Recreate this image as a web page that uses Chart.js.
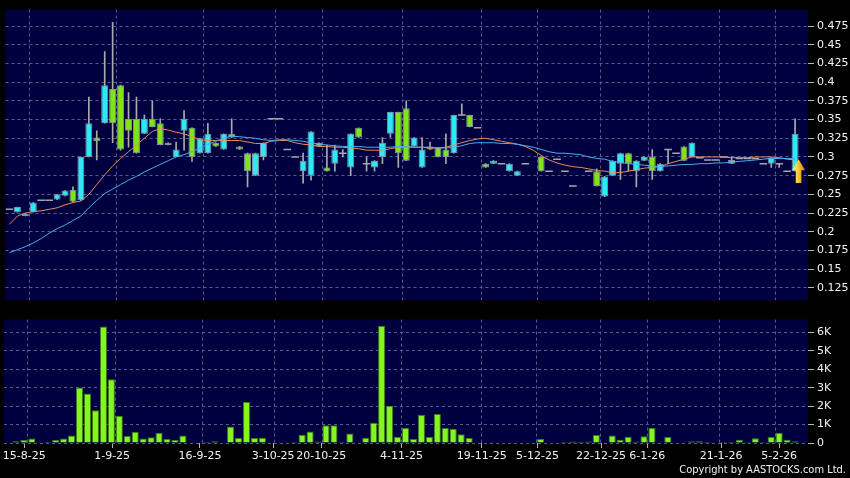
<!DOCTYPE html>
<html>
<head>
<meta charset="utf-8">
<script src="https://cdn.jsdelivr.net/npm/chart.js@4.4.1/dist/chart.umd.min.js"></script>
<style>
  html, body { margin: 0; background: #000; }
  #wrap { position: relative; width: 850px; height: 478px; overflow: hidden; }
  #priceBox { position: absolute; left: 0; top: 0; width: 850px; height: 310px; }
  #volBox { position: absolute; left: 0; top: 310px; width: 850px; height: 168px; }
  #copy { position: absolute; right: 4px; top: 463px; color: #f2f2f2;
          font: 11px "DejaVu Sans Condensed", "DejaVu Sans", sans-serif; }
</style>
</head>
<body>
<div id="wrap">
  <div id="priceBox"><canvas id="priceChart"></canvas></div>
  <div id="volBox"><canvas id="volChart"></canvas></div>
  <div id="copy">Copyright by AASTOCKS.com Ltd.</div>
</div>
<script>
// daily candles, one per trading day shown (null = nothing drawn)
const open = [
  0.230, 0.226, 0.221, 0.226, 0.242, 0.242, 0.243, 0.248, 0.256, 0.242,
  0.300, 0.326, 0.345, 0.391, 0.396, 0.351, 0.351, 0.331, 0.351, 0.345,
  0.319, 0.300, 0.335, 0.339, 0.305, 0.305, 0.319, 0.310, 0.331, 0.314,
  0.305, 0.275, 0.300, 0.351, 0.351, 0.310, 0.300, 0.281, 0.275, 0.319,
  0.286, 0.291, 0.305, 0.286, 0.339, 0.291, 0.286, 0.300, 0.331, 0.360,
  0.365, 0.314, 0.286, 0.314, 0.313, 0.310, 0.305, 0.356, 0.356, 0.339,
  0.291, 0.291, 0.291, 0.281, 0.275, 0.291, null, 0.300, 0.281, 0.297,
  0.281, 0.261, null, 0.281, 0.281, 0.247, 0.275, 0.291, 0.305, 0.281,
  0.295, 0.300, 0.281, 0.310, 0.305, 0.314, 0.300, 0.299, 0.296, 0.296,
  0.300, 0.296, 0.298, 0.298, 0.298, 0.291, 0.291, 0.291, 0.281, 0.281
];
const high = [
  0.230, 0.233, 0.224, 0.239, 0.242, 0.242, 0.250, 0.255, 0.260, 0.300,
  0.380, 0.335, 0.441, 0.480, 0.396, 0.386, 0.380, 0.356, 0.375, 0.351,
  0.319, 0.320, 0.362, 0.339, 0.325, 0.345, 0.319, 0.331, 0.351, 0.314,
  0.305, 0.305, 0.319, 0.351, 0.351, 0.310, 0.300, 0.305, 0.334, 0.319,
  0.316, 0.316, 0.310, 0.331, 0.339, 0.300, 0.295, 0.326, 0.360, 0.360,
  0.375, 0.326, 0.326, 0.320, 0.313, 0.331, 0.356, 0.371, 0.356, 0.339,
  0.291, 0.295, 0.291, 0.291, 0.281, 0.291, null, 0.300, 0.281, 0.297,
  0.281, 0.261, null, 0.281, 0.284, 0.274, 0.295, 0.305, 0.305, 0.295,
  0.300, 0.310, 0.291, 0.310, 0.305, 0.314, 0.319, 0.299, 0.296, 0.296,
  0.300, 0.300, 0.298, 0.298, 0.298, 0.291, 0.299, 0.291, 0.281, 0.351
];
const low = [
  0.230, 0.226, 0.221, 0.226, 0.242, 0.242, 0.243, 0.248, 0.240, 0.242,
  0.300, 0.296, 0.345, 0.319, 0.309, 0.313, 0.305, 0.331, 0.340, 0.316,
  0.316, 0.300, 0.309, 0.294, 0.305, 0.305, 0.314, 0.310, 0.326, 0.310,
  0.260, 0.275, 0.296, 0.351, 0.351, 0.310, 0.300, 0.265, 0.269, 0.314,
  0.281, 0.281, 0.300, 0.275, 0.326, 0.281, 0.281, 0.291, 0.326, 0.286,
  0.295, 0.314, 0.286, 0.310, 0.300, 0.291, 0.305, 0.356, 0.340, 0.339,
  0.286, 0.291, 0.291, 0.281, 0.275, 0.291, null, 0.281, 0.281, 0.297,
  0.281, 0.261, null, 0.281, 0.261, 0.247, 0.275, 0.270, 0.281, 0.260,
  0.295, 0.270, 0.281, 0.291, 0.305, 0.295, 0.300, 0.299, 0.296, 0.296,
  0.300, 0.291, 0.298, 0.298, 0.298, 0.291, 0.286, 0.286, 0.281, 0.281
];
const close = [
  0.230, 0.233, 0.224, 0.239, 0.242, 0.242, 0.250, 0.255, 0.240, 0.300,
  0.345, 0.321, 0.396, 0.345, 0.310, 0.335, 0.305, 0.351, 0.340, 0.316,
  0.316, 0.310, 0.351, 0.300, 0.325, 0.331, 0.314, 0.331, 0.326, 0.310,
  0.281, 0.305, 0.319, 0.351, 0.351, 0.310, 0.300, 0.295, 0.334, 0.314,
  0.281, 0.310, 0.305, 0.331, 0.326, 0.291, 0.295, 0.319, 0.360, 0.305,
  0.295, 0.326, 0.310, 0.310, 0.300, 0.300, 0.356, 0.356, 0.340, 0.339,
  0.286, 0.295, 0.291, 0.291, 0.281, 0.291, null, 0.281, 0.281, 0.297,
  0.281, 0.261, null, 0.281, 0.261, 0.274, 0.295, 0.305, 0.291, 0.295,
  0.300, 0.281, 0.291, 0.310, 0.305, 0.295, 0.319, 0.299, 0.296, 0.296,
  0.300, 0.291, 0.298, 0.298, 0.298, 0.291, 0.299, 0.291, 0.281, 0.331
];
const volume = [
  30, 100, 160, 250, 40, 50, 160, 250, 410, 3010,
  2690, 1780, 6320, 3460, 1480, 380, 610, 250, 310, 560,
  220, 160, 410, 0, 30, 50, 90, 30, 900, 270,
  2230, 270, 290, 0, 0, 40, 60, 450, 630, 80,
  970, 970, 60, 520, 0, 290, 1100, 6360, 2020, 340,
  830, 220, 1530, 320, 1570, 810, 780, 470, 270, 0,
  40, 40, 0, 40, 0, 0, 0, 220, 0, 0,
  50, 80, 70, 80, 430, 40, 410, 180, 340, 80,
  360, 810, 0, 320, 0, 30, 90, 100, 50, 0,
  50, 50, 180, 50, 260, 50, 320, 560, 180, 90
];
// short (orange) and long (blue) moving averages
const maShort = [
  0.210, 0.221, 0.225, 0.227, 0.228, 0.230, 0.232, 0.236, 0.239, 0.241,
  0.250, 0.263, 0.276, 0.288, 0.298, 0.307, 0.316, 0.325, 0.334, 0.338,
  0.336, 0.333, 0.331, 0.327, 0.323, 0.322, 0.322, 0.322, 0.322, 0.322,
  0.320, 0.318, 0.318, 0.321, 0.322, 0.322, 0.319, 0.317, 0.316, 0.314,
  0.314, 0.313, 0.313, 0.312, 0.311, 0.309, 0.309, 0.309, 0.311, 0.313,
  0.313, 0.313, 0.313, 0.312, 0.312, 0.313, 0.316, 0.319, 0.322, 0.324,
  0.325, 0.323, 0.321, 0.319, 0.317, 0.314, 0.309, 0.302, 0.296, 0.292,
  0.289, 0.287, 0.286, 0.284, 0.282, 0.281, 0.279, 0.279, 0.281, 0.283,
  0.285, 0.286, 0.287, 0.291, 0.294, 0.297, 0.300, 0.300, 0.300, 0.300,
  0.300, 0.299, 0.299, 0.299, 0.300, 0.300, 0.300, 0.299, 0.297, 0.296
];
const maLong = [
  0.172, 0.176, 0.180, 0.185, 0.191, 0.198, 0.204, 0.209, 0.215, 0.221,
  0.232, 0.242, 0.251, 0.257, 0.263, 0.269, 0.274, 0.280, 0.285, 0.290,
  0.295, 0.300, 0.303, 0.307, 0.312, 0.317, 0.321, 0.325, 0.328, 0.327,
  0.326, 0.325, 0.323, 0.322, 0.323, 0.323, 0.322, 0.321, 0.319, 0.317,
  0.316, 0.315, 0.314, 0.314, 0.314, 0.313, 0.313, 0.313, 0.313, 0.314,
  0.314, 0.313, 0.313, 0.313, 0.312, 0.312, 0.313, 0.315, 0.318, 0.319,
  0.319, 0.319, 0.318, 0.318, 0.317, 0.315, 0.313, 0.310, 0.307, 0.305,
  0.305, 0.304, 0.303, 0.300, 0.298, 0.297, 0.294, 0.293, 0.291, 0.290,
  0.289, 0.288, 0.287, 0.288, 0.289, 0.290, 0.290, 0.291, 0.291, 0.292,
  0.292, 0.293, 0.294, 0.295, 0.296, 0.297, 0.298, 0.298, 0.298, 0.298
];
const dateLabels = ['15-8-25', '1-9-25', '16-9-25', '3-10-25', '20-10-25', '4-11-25',
  '19-11-25', '5-12-25', '22-12-25', '6-1-26', '21-1-26', '5-2-26'];
const dateGridAt = [2.5, 13.5, 24.5, 33.5, 39.5, 49.5, 59.5, 66.5, 74.5, 80.5, 89.5, 96.5];
const dateLabelAt = [2.05, 13.1, 24.15, 33.35, 39.4, 49.5, 59.6, 66.6, 74.6, 80.4, 89.7, 97.0];
const priceTicks = [0.125, 0.15, 0.175, 0.2, 0.225, 0.25, 0.275, 0.3, 0.325, 0.35, 0.375, 0.4, 0.425, 0.45, 0.475];
const volTicks = [0, 1000, 2000, 3000, 4000, 5000, 6000];
const volTickLabels = ['0', '1K', '2K', '3K', '4K', '5K', '6K'];
const arrowAt = 99, arrowTop = 0.297, arrowBottom = 0.265;

const NAVY = '#000040';
const GRID = '#5a5a8c';
const TXT = '#f2f2f2';
const CYAN = '#2ee8f6';
const GREEN = '#80e41c';
const FONT = {family: 'DejaVu Sans', size: 11};
const X_MIN = -0.503, X_MAX = 100.63;

const idx = open.map((v, i) => i);
const bodies = idx.filter(i => open[i] !== null && open[i] !== close[i])
  .map(i => ({x: i, y: [open[i], close[i]]}));
const wicks = idx.filter(i => open[i] !== null && high[i] > low[i])
  .map(i => ({x: i, y: [low[i], high[i]]}));
const flats = idx.filter(i => open[i] !== null && open[i] === close[i])
  .map(i => ({x: i, y: close[i]}));

const plotBg = {
  id: 'plotBg',
  beforeDraw(chart) {
    const {ctx, chartArea: a} = chart;
    ctx.save();
    ctx.fillStyle = NAVY;
    ctx.fillRect(a.left, a.top, a.width, a.height);
    ctx.restore();
  }
};

// yellow "last price" arrow under the final candle
const arrow = {
  id: 'arrow',
  afterDatasetsDraw(chart) {
    const {ctx, scales: {x, y}} = chart;
    const cx = x.getPixelForValue(arrowAt) + 3.5;
    const top = y.getPixelForValue(arrowTop);
    const bot = y.getPixelForValue(arrowBottom);
    const hw = 6.5, head = 11, sw = 2.8;
    const g = ctx.createLinearGradient(cx - hw, 0, cx + hw, 0);
    g.addColorStop(0, '#fff4a8');
    g.addColorStop(0.5, '#f8c52c');
    g.addColorStop(1, '#c98a00');
    ctx.save();
    ctx.fillStyle = g;
    ctx.beginPath();
    ctx.moveTo(cx, top);
    ctx.lineTo(cx + hw, top + head);
    ctx.lineTo(cx + sw, top + head);
    ctx.lineTo(cx + sw, bot);
    ctx.lineTo(cx - sw, bot);
    ctx.lineTo(cx - sw, top + head);
    ctx.lineTo(cx - hw, top + head);
    ctx.closePath();
    ctx.fill();
    ctx.restore();
  }
};

Chart.defaults.font.family = 'DejaVu Sans';
Chart.defaults.animation = false;

const priceConfig = {
  type: 'bar',
  data: {
    datasets: [
      {
        type: 'line',
        label: 'MA long',
        data: maLong.map((v, i) => ({x: i, y: v})),
        borderColor: '#4aaef0',
        borderWidth: 1,
        pointRadius: 0,
        order: 0,
      },
      {
        type: 'line',
        label: 'MA short',
        data: maShort.map((v, i) => ({x: i, y: v})),
        borderColor: '#e48c5c',
        borderWidth: 1,
        pointRadius: 0,
        order: 0,
      },
      {
        type: 'line',
        label: 'flat',
        data: flats,
        showLine: false,
        pointStyle: 'line',
        pointRadius: 3.8,
        pointBorderColor: '#a6a6a6',
        pointBorderWidth: 1.5,
        order: 1,
      },
      {
        label: 'body',
        data: bodies,
        backgroundColor: c => (c.raw && c.raw.y[1] > c.raw.y[0]) ? CYAN : GREEN,
        borderColor: '#8494a2',
        borderWidth: 1,
        borderSkipped: false,
        barPercentage: 0.88,
        categoryPercentage: 1,
        grouped: false,
        order: 1,
      },
      {
        label: 'wick',
        data: wicks,
        backgroundColor: '#aaaaaa',
        barThickness: 1,
        grouped: false,
        order: 2,
      }
    ]
  },
  options: {
    responsive: true,
    maintainAspectRatio: false,
    events: [],
    layout: {padding: {left: 4, top: 5, right: 0, bottom: 5}},
    plugins: {legend: {display: false}, tooltip: {enabled: false}},
    scales: {
      x: {
        type: 'linear',
        min: X_MIN,
        max: X_MAX,
        offset: false,
        afterBuildTicks: s => { s.ticks = dateGridAt.map(v => ({value: v})); },
        afterFit: s => { s.height = 0; },
        grid: {color: GRID, offset: false, drawTicks: false},
        border: {display: false, dash: [3, 3]},
        ticks: {display: false},
      },
      y: {
        position: 'right',
        min: 0.1082,
        max: 0.497,
        afterBuildTicks: s => { s.ticks = priceTicks.map(v => ({value: v})); },
        afterFit: s => { s.width = 42; },
        grid: {color: GRID, tickColor: '#b4b4b4', tickLength: 6},
        border: {display: false, dash: [3, 3]},
        ticks: {color: TXT, font: FONT, padding: 3, callback: v => String(v)},
      }
    }
  },
  plugins: [plotBg, arrow]
};

const volConfig = {
  type: 'bar',
  data: {
    datasets: [{
      label: 'Volume',
      data: volume.map((v, i) => ({x: i, y: v})),
      backgroundColor: '#84f520',
      borderColor: '#3c7a12',
      borderWidth: 1,
      barPercentage: 0.9,
      categoryPercentage: 1,
    }]
  },
  options: {
    responsive: true,
    maintainAspectRatio: false,
    events: [],
    layout: {padding: {left: 4, top: 9, right: 0, bottom: 10}},
    plugins: {legend: {display: false}, tooltip: {enabled: false}},
    scales: {
      x: {
        type: 'linear',
        min: X_MIN,
        max: X_MAX,
        offset: false,
        weight: 0,
        afterBuildTicks: s => { s.ticks = dateGridAt.map(v => ({value: v})); },
        afterFit: s => { s.height = 0; },
        grid: {color: GRID, offset: false, drawTicks: false},
        border: {display: false, dash: [3, 3]},
        ticks: {display: false},
      },
      xl: {
        type: 'linear',
        position: 'bottom',
        min: X_MIN,
        max: X_MAX,
        offset: false,
        weight: 1,
        afterBuildTicks: s => { s.ticks = dateLabelAt.map(v => ({value: v})); },
        afterFit: s => { s.height = 25; },
        grid: {drawOnChartArea: false, drawTicks: true, tickLength: 5, tickColor: '#b4b4b4', offset: false},
        border: {display: false},
        ticks: {color: TXT, font: FONT, padding: 2, autoSkip: false, maxRotation: 0,
                callback: (v, i) => dateLabels[i]},
      },
      y: {
        position: 'right',
        min: 0,
        max: 6700,
        afterBuildTicks: s => { s.ticks = volTicks.map(v => ({value: v})); },
        afterFit: s => { s.width = 42; },
        grid: {color: GRID, tickColor: '#b4b4b4', tickLength: 6},
        border: {display: false, dash: [3, 3]},
        ticks: {color: TXT, font: FONT, padding: 3, callback: (v, i) => volTickLabels[i]},
      }
    }
  },
  plugins: [plotBg]
};

const priceChart = new Chart(document.getElementById('priceChart'), priceConfig);
const volChart = new Chart(document.getElementById('volChart'), volConfig);
</script>
</body>
</html>
